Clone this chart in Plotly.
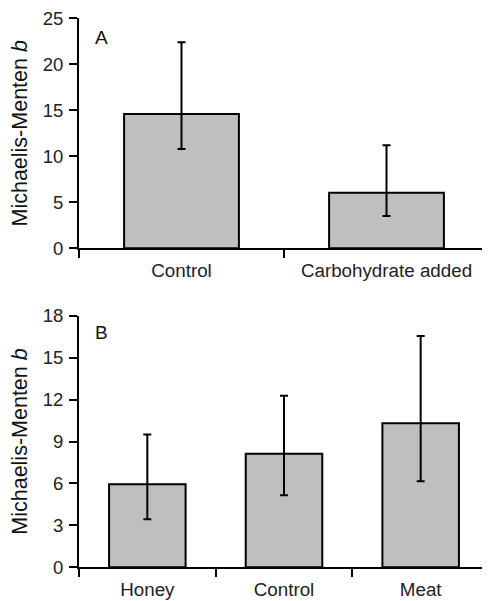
import plotly.graph_objects as go
from plotly.subplots import make_subplots

# Panel A data
cats_a = ["Control", "Carbohydrate added"]
mean_a = [14.6, 6.05]
upper_a = [22.4, 11.2]
lower_a = [10.8, 3.5]

# Panel B data
cats_b = ["Honey", "Control", "Meat"]
mean_b = [5.95, 8.13, 10.3]
upper_b = [9.5, 12.27, 16.55]
lower_b = [3.43, 5.15, 6.15]

ticks_a = [0, 5, 10, 15, 20, 25]
ticks_b = [0, 3, 6, 9, 12, 15, 18]

FONT = "Liberation Sans, Arial, Helvetica, sans-serif"
BAR_COLOR = "#bfbfbf"

fig = make_subplots(rows=2, cols=1)

def add_panel(cats, mean, upper, lower, row):
    fig.add_trace(go.Bar(
        x=cats, y=mean,
        width=0.56,
        marker=dict(color=BAR_COLOR, line=dict(color="black", width=2)),
        error_y=dict(type="data", symmetric=False,
                     array=[u - m for u, m in zip(upper, mean)],
                     arrayminus=[m - l for m, l in zip(mean, lower)],
                     color="black", thickness=2, width=4),
        showlegend=False,
    ), row=row, col=1)

add_panel(cats_a, mean_a, upper_a, lower_a, 1)
add_panel(cats_b, mean_b, upper_b, lower_b, 2)

# page body has an 8px margin, so the figure starts at (8, 8)
OFF = 8
W, H = 490 - OFF, 601 - OFF
def yd(top_px, bot_px):
    return [1 - (bot_px - OFF) / H, 1 - (top_px - OFF) / H]

common_x = dict(showline=True, linecolor="black", linewidth=2,
                ticks="outside", tickson="boundaries", ticklen=8, tickwidth=2,
                tickcolor="black", showgrid=False, zeroline=False,
                tickfont=dict(family=FONT, size=18.8, color="#222"),
                ticklabelstandoff=4, ticklabeloverflow="allow",
                domain=[0, 1], fixedrange=True)
common_y = dict(showline=True, linecolor="black", linewidth=2,
                ticks="outside", ticklen=8, tickwidth=2, tickcolor="black",
                showgrid=False, zeroline=False,
                tickfont=dict(family=FONT, size=18.5, color="#222"),
                title=dict(text="Michaelis-Menten <i>b</i>",
                           font=dict(family=FONT, size=21.5, color="#111"),
                           standoff=15),
                ticklabelstandoff=2, ticklabeloverflow="allow")

fig.update_xaxes(**common_x, row=1, col=1)
fig.update_xaxes(**common_x, row=2, col=1)
fig.update_yaxes(**common_y, range=[0, 25], tickvals=ticks_a,
                 domain=yd(18.3, 248.3), row=1, col=1)
fig.update_yaxes(**common_y, range=[0, 18], tickvals=ticks_b,
                 domain=yd(315.7, 567.3), row=2, col=1)

L = 78.7 - OFF
PW = W - L - 1
fig.add_annotation(text="A", xref="paper", yref="paper", x=(92.5 - OFF - L) / PW,
                   y=1 - (37 - OFF) / H,
                   xanchor="left", yanchor="middle", showarrow=False,
                   font=dict(family=FONT, size=19, color="#111"))
fig.add_annotation(text="B", xref="paper", yref="paper", x=(92.5 - OFF - L) / PW,
                   y=1 - (332 - OFF) / H,
                   xanchor="left", yanchor="middle", showarrow=False,
                   font=dict(family=FONT, size=19, color="#111"))

fig.update_layout(width=W, height=H,
                  margin=dict(l=L, r=1, t=0, b=0, autoexpand=False),
                  plot_bgcolor="white", paper_bgcolor="white",
                  bargap=0.44)

fig.write_html("out.html")
